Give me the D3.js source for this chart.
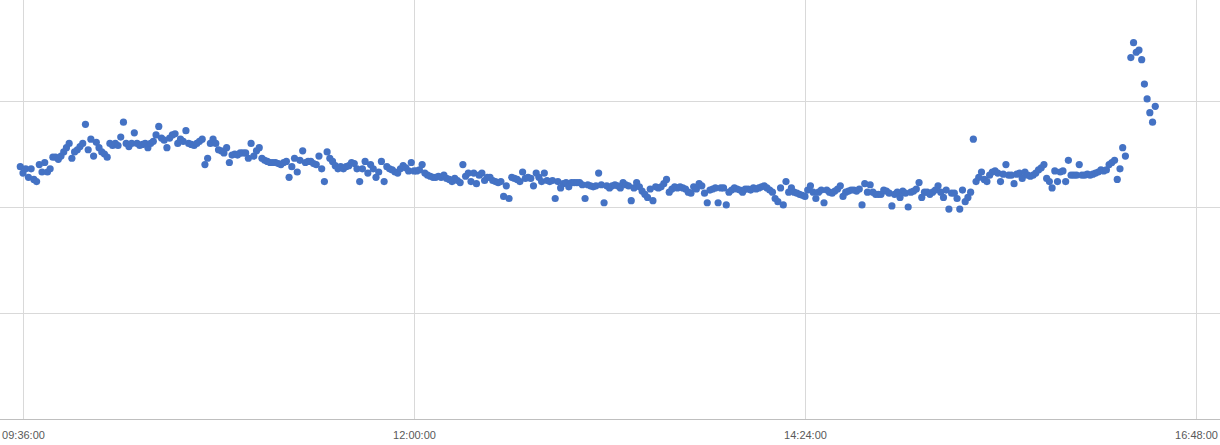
<!DOCTYPE html>
<html>
<head>
<meta charset="utf-8">
<script src="https://cdn.jsdelivr.net/npm/d3@7"></script>
<style>
  html, body { margin: 0; padding: 0; background: #ffffff; }
  svg { display: block; }
</style>
</head>
<body>
<svg id="chart" width="1220" height="445"></svg>
<script>
// ---- data ----
const startTime = "09:35:00";           // first sample, one sample per minute
const tickLabels = ["09:36:00", "12:00:00", "14:24:00", "16:48:00"];
const gridValues = [1, 2, 3];
const values = [
  2.38,2.32,2.36,2.28,2.36,2.26,2.24,2.40,2.33,2.42,
  2.33,2.36,2.47,2.47,2.45,2.48,2.52,2.56,2.60,2.46,
  2.52,2.54,2.57,2.60,2.78,2.54,2.64,2.48,2.61,2.56,
  2.52,2.50,2.47,2.60,2.58,2.60,2.58,2.66,2.80,2.60,
  2.57,2.60,2.70,2.60,2.58,2.59,2.60,2.56,2.60,2.62,
  2.68,2.76,2.65,2.63,2.56,2.65,2.68,2.69,2.60,2.64,
  2.62,2.72,2.60,2.59,2.58,2.60,2.62,2.64,2.40,2.46,
  2.60,2.64,2.60,2.54,2.53,2.51,2.56,2.42,2.49,2.50,
  2.49,2.51,2.51,2.51,2.46,2.60,2.48,2.53,2.56,2.46,
  2.44,2.43,2.42,2.42,2.42,2.41,2.40,2.42,2.43,2.28,
  2.38,2.46,2.33,2.44,2.53,2.42,2.43,2.43,2.41,2.40,
  2.48,2.36,2.24,2.52,2.46,2.43,2.39,2.36,2.38,2.36,
  2.38,2.39,2.42,2.41,2.36,2.24,2.36,2.43,2.32,2.40,
  2.36,2.28,2.33,2.43,2.24,2.38,2.36,2.35,2.33,2.32,
  2.36,2.39,2.37,2.34,2.42,2.34,2.34,2.35,2.40,2.32,
  2.30,2.29,2.28,2.28,2.29,2.28,2.30,2.27,2.26,2.24,
  2.27,2.25,2.23,2.40,2.29,2.32,2.24,2.32,2.22,2.30,
  2.32,2.25,2.28,2.28,2.25,2.24,2.23,2.24,2.10,2.20,
  2.08,2.28,2.27,2.26,2.24,2.33,2.27,2.28,2.27,2.20,
  2.32,2.28,2.24,2.32,2.25,2.24,2.25,2.08,2.24,2.18,
  2.22,2.23,2.19,2.23,2.23,2.23,2.23,2.21,2.08,2.21,
  2.20,2.19,2.20,2.32,2.21,2.04,2.20,2.18,2.20,2.21,
  2.20,2.18,2.23,2.21,2.20,2.06,2.18,2.23,2.19,2.15,
  2.12,2.09,2.17,2.06,2.19,2.18,2.19,2.22,2.26,2.14,
  2.17,2.19,2.18,2.19,2.18,2.17,2.14,2.13,2.19,2.17,
  2.22,2.20,2.13,2.04,2.16,2.17,2.18,2.04,2.18,2.18,
  2.02,2.14,2.16,2.18,2.17,2.16,2.14,2.17,2.17,2.16,
  2.18,2.17,2.18,2.19,2.20,2.18,2.16,2.14,2.08,2.05,
  2.18,2.02,2.24,2.14,2.18,2.14,2.13,2.12,2.11,2.10,
  2.16,2.20,2.14,2.08,2.14,2.16,2.04,2.16,2.14,2.13,
  2.15,2.17,2.20,2.10,2.14,2.15,2.16,2.16,2.15,2.17,
  2.02,2.22,2.14,2.21,2.14,2.12,2.12,2.12,2.16,2.15,
  2.13,2.01,2.12,2.14,2.09,2.15,2.13,2.00,2.14,2.15,
  2.17,2.23,2.09,2.14,2.14,2.12,2.14,2.16,2.20,2.14,
  2.09,2.16,1.98,2.13,2.13,2.08,1.98,2.16,2.05,2.09,
  2.14,2.64,2.24,2.28,2.33,2.26,2.24,2.30,2.33,2.34,
  2.32,2.24,2.31,2.40,2.30,2.30,2.22,2.31,2.32,2.27,
  2.33,2.30,2.29,2.30,2.32,2.35,2.37,2.40,2.27,2.24,
  2.18,2.34,2.24,2.33,2.34,2.24,2.44,2.30,2.30,2.30,
  2.40,2.30,2.30,2.31,2.30,2.31,2.32,2.33,2.35,2.34,
  2.35,2.40,2.42,2.44,2.26,2.36,2.56,2.48,null,3.41,
  3.55,3.46,3.48,3.39,3.16,3.02,2.89,2.80,2.95
];

// ---- build ----
const parseT = d3.timeParse("%Y-%m-%d %H:%M:%S");
const day = "2024-01-02 ";
const t0 = parseT(day + startTime);
const points = values.map((v, i) => ({ t: d3.timeMinute.offset(t0, i), v }))
                     .filter(d => d.v !== null);
const tickDates = tickLabels.map(s => parseT(day + s));

const W = 1220, H = 445;
const svg = d3.select("#chart");

const x = d3.scaleTime()
  .domain([tickDates[0], tickDates[tickDates.length - 1]])
  .range([23, 1196]);
const y = d3.scaleLinear().domain([0, 4]).range([419, -5]);

// horizontal gridlines
svg.append("g").selectAll("line").data(gridValues).join("line")
  .attr("x1", 0).attr("x2", W)
  .attr("y1", d => Math.round(y(d)) + 0.5).attr("y2", d => Math.round(y(d)) + 0.5)
  .attr("stroke", "#d9d9d9").attr("stroke-width", 1);

// vertical gridlines
svg.append("g").selectAll("line").data(tickDates).join("line")
  .attr("x1", d => Math.round(x(d)) + 0.5).attr("x2", d => Math.round(x(d)) + 0.5)
  .attr("y1", 0).attr("y2", y(0))
  .attr("stroke", "#d9d9d9").attr("stroke-width", 1);

// x axis line
svg.append("line")
  .attr("x1", 0).attr("x2", W)
  .attr("y1", Math.round(y(0)) + 0.5).attr("y2", Math.round(y(0)) + 0.5)
  .attr("stroke", "#bfbfbf").attr("stroke-width", 1);

// x tick labels via axis
const fmt = d3.timeFormat("%H:%M:%S");
const axis = d3.axisBottom(x).tickValues(tickDates).tickFormat(fmt).tickSize(0).tickPadding(12);
const gAxis = svg.append("g").attr("transform", `translate(0,${y(0)})`).call(axis);
gAxis.select(".domain").remove();
gAxis.selectAll("text")
  .attr("fill", "#595959")
  .style("font-family", "'Liberation Sans', Arial, sans-serif")
  .style("font-size", "11px");

// points
svg.append("g").selectAll("circle").data(points).join("circle")
  .attr("cx", d => x(d.t))
  .attr("cy", d => y(d.v))
  .attr("r", 3.6)
  .attr("fill", "#4472c4");
</script>
</body>
</html>
